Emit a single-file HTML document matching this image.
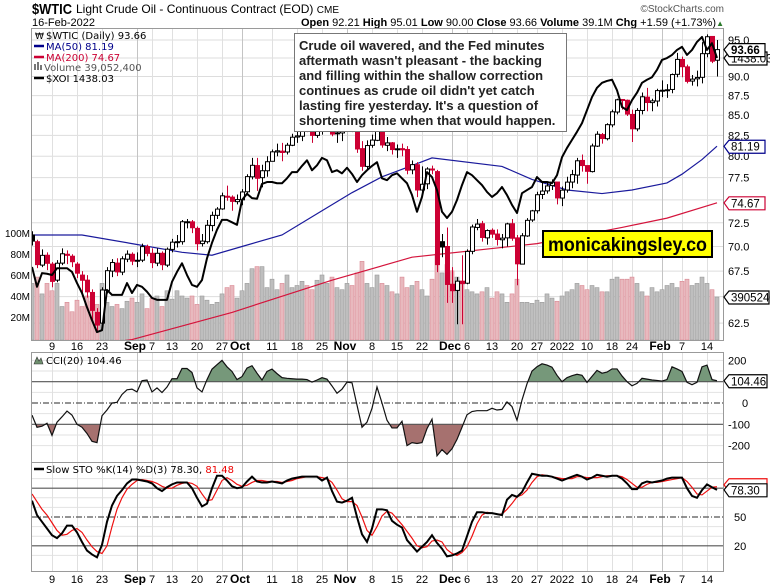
<!DOCTYPE html>
<html><head><meta charset="utf-8"><style>
html,body{margin:0;padding:0;background:#fff;width:770px;height:585px;overflow:hidden}
svg{display:block;font-family:"Liberation Sans",sans-serif}
.ax{font-size:11px;fill:#000}
.lg{font-family:"DejaVu Sans",sans-serif;font-size:10px}
</style></head><body>
<svg id="c" width="770" height="585" viewBox="0 0 770 585">
<defs>
<clipPath id="cpMain"><rect x="32" y="29" width="692" height="311"/></clipPath>
<clipPath id="cpCCI"><rect x="32" y="353" width="692" height="109"/></clipPath>
<clipPath id="cpSTO"><rect x="32" y="463" width="692" height="108"/></clipPath>
<clipPath id="cpAbove"><rect x="32" y="353" width="692" height="28.7"/></clipPath>
<clipPath id="cpBelow"><rect x="32" y="424.3" width="692" height="40"/></clipPath>
</defs>
<g>
<text x="32" y="14" font-size="15" font-weight="bold" textLength="40" lengthAdjust="spacingAndGlyphs">$WTIC</text>
<text x="76" y="13" font-size="12">Light Crude Oil - Continuous Contract (EOD) <tspan font-size="10">CME</tspan></text>
<text x="32" y="26" font-size="11">16-Feb-2022</text>
<text x="724" y="12" font-size="10" fill="#555" text-anchor="end">©StockCharts.com</text>
<text x="716" y="26" font-size="11" text-anchor="end"><tspan font-weight="bold">Open</tspan> 92.21 <tspan font-weight="bold">High</tspan> 95.01 <tspan font-weight="bold">Low</tspan> 90.00 <tspan font-weight="bold">Close</tspan> 93.66 <tspan font-weight="bold">Volume</tspan> 39.1M <tspan font-weight="bold">Chg</tspan> +1.59 (+1.73%)</text>
<text x="724" y="26" font-size="8" fill="#2a7a2a" text-anchor="end">▲</text>
</g>
<g id="grid"></g>
<g id="main" clip-path="url(#cpMain)"></g>
<g id="cci" clip-path="url(#cpCCI)"></g>
<g id="sto" clip-path="url(#cpSTO)"></g>
<g id="frames"></g>
<g id="labels"></g>
<g class="lg">
<text x="46" y="39">$WTIC (Daily) 93.66</text>
<text x="35" y="39" font-size="9">₩</text>
<line x1="34" y1="46" x2="44" y2="46" stroke="#00008b" stroke-width="2.5"/>
<text x="46" y="50" fill="#00008b">MA(50) 81.19</text>
<line x1="34" y1="57" x2="44" y2="57" stroke="#cc0033" stroke-width="2.5"/>
<text x="46" y="61" fill="#cc0033">MA(200) 74.67</text>
<rect x="34" y="64" width="2" height="6" fill="#777"/><rect x="37" y="62" width="2" height="8" fill="#777"/><rect x="40" y="65" width="2" height="5" fill="#777"/>
<text x="44" y="71" fill="#555">Volume 39,052,400</text>
<line x1="34" y1="78" x2="44" y2="78" stroke="#000" stroke-width="2.5"/>
<text x="46" y="82">$XOI 1438.03</text>
</g>
<g>
<rect x="294.5" y="33.5" width="272" height="98" fill="#fff" stroke="#777"/>
<text font-size="13" font-weight="bold" fill="#222">
<tspan x="299" y="50">Crude oil wavered, and the Fed minutes</tspan>
<tspan x="299" y="65">aftermath wasn't pleasant - the backing</tspan>
<tspan x="299" y="80">and filling within the shallow correction</tspan>
<tspan x="299" y="95">continues as crude oil didn't yet catch</tspan>
<tspan x="299" y="110">lasting fire yesterday. It's a question of</tspan>
<tspan x="299" y="125">shortening time when that would happen.</tspan>
</text>
</g>
<g>
<rect x="543" y="231" width="169" height="26" fill="#ffff00" stroke="#000" stroke-width="2"/>
<text x="548" y="251" font-size="19" font-weight="bold" textLength="159" lengthAdjust="spacingAndGlyphs">monicakingsley.co</text>
</g>
<g class="lg">
<path d="M34 364 L37 357 L39 361 L41 358 L43 364 Z" fill="#6e8f6e" stroke="#333" stroke-width="0.6"/>
<text x="46" y="364">CCI(20) 104.46</text>
</g>
<g class="lg">
<line x1="34" y1="469" x2="44" y2="469" stroke="#000" stroke-width="2.5"/>
<text x="46" y="473">Slow STO %K(14) %D(3) 78.30, <tspan fill="#e00">81.48</tspan></text>
</g>
</svg>
<script>
const closes=[70.56,68.15,69.09,68.28,66.48,68.29,69.25,69.09,68.44,67.29,66.59,65.46,63.69,62.32,65.64,67.54,68.36,67.42,68.74,69.21,68.50,
68.59,69.99,69.29,68.35,69.30,68.14,69.72,70.45,70.46,72.61,72.61,71.97,70.29,70.56,72.23,73.30,73.98,75.45,75.29,74.83,75.03,
75.88,77.62,78.93,77.43,78.30,79.35,80.52,80.64,80.44,81.31,82.28,82.44,83.87,83.42,82.50,83.76,83.76,84.65,82.66,82.81,83.57,
84.05,83.91,80.86,78.81,81.27,81.93,84.15,81.34,81.59,80.79,80.88,80.76,78.36,79.01,76.10,76.75,78.50,78.39,68.15,69.95,66.18,
65.57,66.50,66.26,69.49,72.05,72.36,70.94,71.67,71.29,70.73,70.87,72.38,70.86,68.23,71.12,72.76,73.79,75.57,75.98,76.56,76.99,75.21,
76.08,76.99,77.85,79.46,78.90,78.23,81.22,82.64,82.12,83.82,85.43,86.96,86.90,85.14,83.31,85.60,87.35,86.61,86.82,88.15,
88.20,88.26,90.27,92.31,91.32,89.36,89.66,89.88,93.10,95.46,92.07,93.66];
const opens=[71.2,70.5,68.1,69.1,68.2,66.6,68.3,69.2,69.0,68.2,67.1,66.6,65.4,63.5,62.5,65.6,67.5,68.3,67.4,68.7,69.2,
68.5,68.6,70.0,69.3,68.3,69.3,68.1,69.7,70.5,70.5,72.6,72.6,71.9,70.3,70.5,72.2,73.3,74.0,75.4,75.3,74.8,
75.0,75.9,77.6,78.9,77.5,78.3,79.4,80.5,80.6,80.5,81.3,82.3,82.4,83.9,83.4,82.5,83.8,83.8,84.6,82.7,82.8,
83.6,84.1,83.9,80.9,78.8,81.3,81.9,84.1,81.3,81.6,80.8,80.9,80.8,78.4,79.0,76.1,76.8,78.5,78.2,70.5,70.0,
66.2,65.6,66.5,66.3,69.5,72.0,72.4,70.9,71.7,71.3,70.7,70.9,72.4,70.9,68.2,71.1,72.8,73.8,75.6,76.0,76.6,77.0,
75.2,76.1,77.0,77.8,79.5,78.9,78.2,81.2,82.6,82.1,83.8,85.4,87.0,86.9,85.1,83.3,85.6,87.3,86.6,86.8,
88.1,88.2,88.3,90.3,92.3,91.3,89.4,89.7,89.9,93.1,95.5,92.2];
const highs=[71.6,70.7,69.7,69.4,68.4,68.6,69.8,69.6,69.2,68.4,67.5,67.1,65.7,63.9,65.9,67.9,68.7,68.8,69.0,69.6,69.4,
69.4,70.3,70.2,69.8,69.8,69.5,69.9,70.8,71.2,72.8,72.9,72.8,72.1,71.3,72.8,73.7,74.2,75.8,76.6,75.5,75.6,
76.2,77.9,79.8,79.8,79.0,80.0,80.8,81.5,81.6,81.6,82.7,83.0,83.9,83.9,84.0,84.1,84.7,85.4,84.9,83.2,83.9,
84.8,84.3,84.2,81.8,81.9,82.6,84.9,84.4,82.3,81.7,81.4,81.5,81.2,79.5,79.3,78.8,78.7,78.9,78.4,71.3,72.0,
67.9,66.9,69.1,69.7,72.3,72.9,72.7,71.8,71.9,71.8,71.3,72.5,72.9,71.2,71.4,73.0,73.9,75.9,76.9,77.0,77.3,77.0,
76.5,77.6,78.4,79.8,80.2,78.8,81.5,83.0,82.8,84.0,85.7,87.1,87.0,87.0,85.7,85.9,87.9,88.5,87.1,88.4,
89.5,89.0,90.4,93.2,92.7,91.6,90.2,90.8,94.7,95.8,95.4,95.0];
const lows=[70.1,67.8,67.9,67.6,65.9,66.4,68.1,68.2,67.9,66.8,65.1,64.9,62.8,61.7,62.4,65.3,66.9,67.0,67.1,68.4,68.1,
67.9,68.4,69.0,67.8,68.0,67.6,67.9,69.4,69.9,70.2,71.9,71.4,69.6,70.0,70.3,71.6,72.9,73.9,74.9,73.8,74.5,
74.4,75.6,77.3,76.0,76.4,77.6,79.4,80.0,79.4,80.2,81.2,81.6,81.8,82.9,81.6,82.2,82.6,83.6,82.4,81.6,81.8,
83.3,82.9,80.4,78.3,78.4,81.0,81.8,81.0,80.6,80.2,79.8,80.0,77.9,77.9,75.3,75.6,76.2,77.9,67.4,68.9,64.4,
64.4,62.4,62.4,66.2,69.2,71.7,70.5,70.2,70.9,70.1,69.8,70.0,70.6,66.1,68.2,71.0,72.6,73.5,75.1,75.7,76.1,74.5,
74.3,75.8,76.3,76.8,78.2,76.8,78.1,81.1,81.5,81.9,83.5,85.1,85.7,84.9,81.7,83.0,85.1,85.5,85.5,86.1,
87.3,87.2,87.8,89.9,89.9,89.1,88.8,88.7,89.1,92.6,91.8,90.0];
const volumes=[52,58,42,52,45,52,30,34,25,36,30,40,35,32,52,34,30,32,28,35,38,
34,42,28,38,40,30,45,37,45,40,38,40,32,40,36,32,34,42,48,50,38,
45,52,66,68,68,48,56,46,52,60,48,50,54,50,46,55,60,52,58,48,46,
52,50,62,73,52,48,60,52,50,44,42,58,48,50,54,46,40,56,80,62,70,
64,58,52,46,44,42,44,48,38,44,42,34,42,56,34,34,33,36,34,42,38,35,
40,44,46,52,50,46,50,48,44,44,56,58,56,56,58,52,44,40,48,44,
46,50,52,48,54,56,50,52,58,52,46,39];
const xoi=[1101,1069,1091,1090,1088,1099,1099,1099,1093,1075,1059,1036,1015,996,999,1064,1056,1056,1056,1075,1059,1072,1069,1061,1051,1048,1048,1048,1077,1093,1107,1088,1072,1069,1080,1115,1140,1161,1177,1177,1173,1169,1209,1219,1212,1211,1235,1238,1238,1236,1236,1244,1254,1254,1264,1273,1257,1265,1277,1273,1254,1257,1252,1261,1251,1238,1249,1257,1264,1270,1244,1241,1249,1252,1244,1236,1217,1190,1214,1254,1246,1225,1190,1180,1190,1209,1233,1254,1249,1241,1233,1222,1214,1220,1230,1217,1201,1188,1220,1225,1230,1246,1238,1238,1236,1249,1278,1293,1306,1319,1333,1354,1375,1390,1398,1401,1403,1386,1359,1354,1370,1382,1398,1403,1407,1419,1435,1438,1443,1451,1456,1443,1451,1464,1472,1451,1462,1438.03];
const ma50Idx=[0,10,20,30,36,42,50,58,64,70,76,80,94,100,107,114,120,127,130,134,137];
const ma50Val=[71.2,71.2,70.3,69.4,69.1,70.0,71.2,73.8,75.8,77.6,78.9,79.8,78.8,77.3,76.1,75.7,76.1,76.9,77.9,79.6,81.19];
const ma200Idx=[0,20,40,60,76,94,101,118,127,137];
const ma200Val=[59.8,61.0,63.5,66.6,68.9,69.9,70.3,72.0,73.0,74.67];
const cci=[-57,-114,-109,-95,-152,-90,-65,-38,-57,-100,-114,-143,-180,-186,-60,-33,0,3,40,62,65,52,105,108,52,71,49,75,114,114,162,162,143,71,52,110,159,180,200,170,148,110,124,164,175,140,108,148,159,138,119,116,114,112,112,110,98,108,119,112,80,46,65,98,95,-10,-114,-90,-25,75,0,-81,-117,-117,
-86,-200,-186,-190,-186,-120,-76,-248,-219,-241,-215,-171,-114,-55,-40,-36,-36,-36,-25,-33,-30,5,-17,-81,14,90,150,170,184,178,168,130,100,119,128,135,130,97,125,153,140,145,160,160,127,100,81,92,116,112,108,106,103,110,170,160,148,97,86,97,170,178,110,104.46];
const stoK=[67,52,45,38,31,28,33,41,41,34,24,15,11,8,21,45,62,72,78,85,89,89,88,87,85,80,77,81,84,86,86,86,80,70,61,64,80,93,93,88,82,80,81,87,92,87,86,86,87,86,85,88,90,91,92,92,92,92,88,91,77,66,65,67,70,50,32,24,38,58,58,57,46,42,39,26,20,14,19,24,31,23,17,9,10,12,15,30,45,55,55,54,54,53,52,68,73,71,76,86,95,94,93,93,92,90,88,90,92,94,92,89,91,94,93,92,93,93,90,85,79,79,85,87,86,87,88,90,91,91,91,80,72,70,78,84,81,78.3];
const stoD=[74,66,58,52,44,36,31,32,36,38,34,26,19,14,12,20,40,58,70,79,84,88,89,88,87,85,82,80,80,83,85,86,85,82,74,67,68,78,88,91,88,84,82,83,86,88,88,87,87,87,86,87,88,90,91,92,92,92,91,90,86,78,69,66,66,62,50,36,31,40,51,56,54,48,42,35,28,20,18,19,25,26,24,16,12,10,13,19,30,43,52,55,54,53,53,58,64,71,73,78,86,92,94,93,92,91,90,90,90,92,92,91,91,91,92,93,93,93,92,89,85,81,81,84,86,86,87,88,89,90,91,87,81,74,73,77,81,81.48];
const tickIdx=[4,9,14,21,24,28,33,38,42,48,53,58,63,68,73,78,84,87,92,97,101,106,111,116,120,126,130,135];
const tickLbl=["9","16","23","Sep","7","13","20","27","Oct","11","18","25","Nov","8","15","22","Dec","6","13","20","27","2022","10","18","24","Feb","7","14"];
const priceTicks=[62.5,65,67.5,70,72.5,77.5,80,82.5,85,87.5,90,95];
const volTicks=[20,40,60,80,100];

const NS="http://www.w3.org/2000/svg";
const X=i=>32+i*5;
const yP=p=>40+Math.log10(95/p)*1557;
const yV=v=>338-v*1.05;
const yX=v=>58+(1438.03-v)*0.62;
const yC=v=>403-v*0.213;
const yS=v=>565-v*0.96;
function mk(parent,tag,attrs){const e=document.createElementNS(NS,tag);for(const k in attrs)e.setAttribute(k,attrs[k]);parent.appendChild(e);return e;}
const G=document.getElementById('grid'),M=document.getElementById('main'),C=document.getElementById('cci'),S=document.getElementById('sto'),F=document.getElementById('frames'),L=document.getElementById('labels');

priceTicks.concat([75,92.5]).forEach(p=>{const l=mk(G,'line',{x1:32,x2:724,y1:yP(p),y2:yP(p),stroke:'#ddd'});

});
[-200,200,-150,150,-50,50].forEach(v=>{const l=mk(G,'line',{x1:32,x2:724,y1:yC(v),y2:yC(v),stroke:'#e2e2e2'});

});
[10,30,40,60,70,90].forEach(v=>{const l=mk(G,'line',{x1:32,x2:724,y1:yS(v),y2:yS(v),stroke:'#e2e2e2'});

});
tickIdx.forEach((t,k)=>{const bold=isNaN(+tickLbl[k]);[[29,340],[353,462],[463,571]].forEach(r=>{const l=mk(G,'line',{x1:X(t)+0.5,x2:X(t)+0.5,y1:r[0],y2:r[1],stroke:bold?'#c4c4c4':'#e0e0e0'});

});});

volumes.forEach((v,i)=>{const down=i>0&&closes[i]<closes[i-1];const r=mk(M,'rect',{x:X(i)-2,y:yV(v),width:4,height:338-yV(v)+2,fill:down?'#e8b9be':'#bebebe',stroke:down?'#d98893':'#9a9a9a','stroke-width':0.6});

});
function pl(parent,pts,attrs,name){const p=mk(parent,'polyline',Object.assign({points:pts.map(a=>a.join(',')).join(' '),fill:'none'},attrs));

return p;}
pl(M,ma200Idx.map((t,k)=>[X(t),yP(ma200Val[k])]),{stroke:'#d4143c','stroke-width':1.2},'ma200-line');
pl(M,ma50Idx.map((t,k)=>[X(t),yP(ma50Val[k])]),{stroke:'#1a1a9c','stroke-width':1.2},'ma50-line');
closes.forEach((c,i)=>{const o=opens[i];const red=i>0&&c<closes[i-1];const col=red?'#cc0033':'#000';const x=X(i);
const g=mk(M,'g',{});


mk(g,'line',{x1:x+0.5,x2:x+0.5,y1:yP(highs[i]),y2:yP(lows[i]),stroke:col,'stroke-width':1});
const t=yP(Math.max(o,c)),b=yP(Math.min(o,c));
mk(g,'rect',{x:x-1.5,y:t,width:4,height:Math.max(1,b-t),fill:c>=o?'#fff':col,stroke:col,'stroke-width':1});});
pl(M,xoi.map((v,i)=>[X(i),yX(v)]),{stroke:'#000','stroke-width':2,'stroke-linejoin':'round'},'xoi-line');

const cciPts=cci.map((v,i)=>[X(i),yC(v)]);
const a1=mk(C,'polygon',{points:cciPts.map(a=>a.join(',')).join(' ')+` ${X(cci.length-1)},${yC(100)} ${X(0)},${yC(100)}`,fill:'#76987a','clip-path':'url(#cpAbove)'});


const a2=mk(C,'polygon',{points:cciPts.map(a=>a.join(',')).join(' ')+` ${X(cci.length-1)},${yC(-100)} ${X(0)},${yC(-100)}`,fill:'#a6716f','clip-path':'url(#cpBelow)'});


[[100,'none'],[-100,'none'],[0,'6,2,1,2']].forEach(a=>{const l=mk(C,'line',{x1:32,x2:724,y1:yC(a[0]),y2:yC(a[0]),stroke:'#555','stroke-width':1.2,'stroke-dasharray':a[1]});

});
pl(C,cciPts,{stroke:'#111','stroke-width':1.2},'cci-line');
[[80,'none'],[20,'none'],[50,'6,2,1,2']].forEach(a=>{const l=mk(S,'line',{x1:32,x2:724,y1:yS(a[0]),y2:yS(a[0]),stroke:'#555','stroke-width':1.2,'stroke-dasharray':a[1]});

});
pl(S,stoD.map((v,i)=>[X(i),yS(v)]),{stroke:'#ee1111','stroke-width':1.2},'sto-d-line');
pl(S,stoK.map((v,i)=>[X(i),yS(v)]),{stroke:'#000','stroke-width':2},'sto-k-line');

[[31.5,28.5,692,312],[31.5,352.5,692,110],[31.5,462.5,692,109]].forEach(r=>{const f=mk(F,'rect',{x:r[0],y:r[1],width:r[2],height:r[3],fill:'none',stroke:'#9a9a9a'});

});
[346,579].forEach(y=>{tickIdx.forEach((t,k)=>{const bold=isNaN(+tickLbl[k]);const tx=mk(L,'text',{x:X(t)+(bold&&tickLbl[k]!=='2022'?-2:0),y:y+4,'text-anchor':'middle','font-size':bold?12:11,'font-weight':bold?'bold':'normal',fill:'#000'});tx.textContent=tickLbl[k];

});});
priceTicks.forEach(p=>{const tx=mk(L,'text',{x:728,y:yP(p)+4,class:'ax'});tx.textContent=p.toFixed(1);

});
volTicks.forEach(v=>{const tx=mk(L,'text',{x:30,y:yV(v)+4,'text-anchor':'end','font-size':10});tx.textContent=v+'M';

});
[[200,'200'],[0,'0'],[-100,'-100'],[-200,'-200']].forEach(a=>{const tx=mk(L,'text',{x:a[0]===0?742:728,y:yC(a[0])+4,class:'ax'});tx.textContent=a[1];

});
[[50,'50'],[20,'20']].forEach(a=>{const tx=mk(L,'text',{x:734,y:yS(a[0])+4,class:'ax'});tx.textContent=a[1];

});
function tag(y,txt,col,w,name,bold){const g=mk(L,'g',{});


mk(g,'polygon',{points:`724,${y} 729,${y-6} ${729+w},${y-6} ${729+w},${y+7} 729,${y+7}`,fill:'#fff',stroke:col,'stroke-width':1.2});
const t=mk(g,'text',{x:731,y:y+4.5,'font-size':11.5,'font-weight':bold?'bold':'normal',fill:'#000'});t.textContent=txt;}
tag(yX(1438.03),'1438.03','#000',38,'xoi-value-tag',false);
tag(yP(93.66),'93.66','#000',36,'price-value-tag',true);
tag(yP(81.19),'81.19','#00008b',36,'ma50-value-tag',false);
tag(yP(74.67),'74.67','#cc0033',36,'ma200-value-tag',false);
tag(yV(39.05),'3905240','#000',40,'volume-value-tag',false);
tag(yC(104.46),'104.46','#000',38,'cci-value-tag',false);
tag(yS(81.48)-2,'','#ee1111',38,'sto-d-value-tag',false);
tag(yS(78.3),'78.30','#000',38,'sto-k-value-tag',false);
</script>
</body></html>
